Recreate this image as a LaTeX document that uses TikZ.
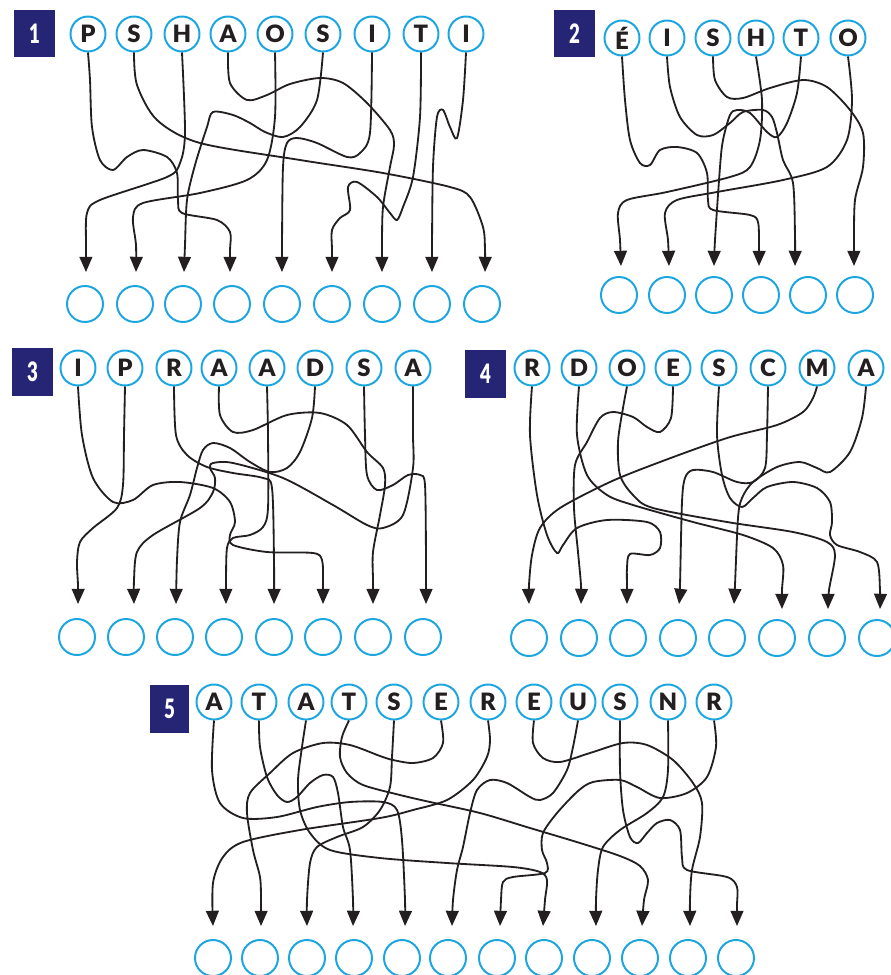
\documentclass[tikz,border=0pt]{standalone}
\usepackage{fontspec}
\usepackage{tikz}
\usetikzlibrary{calc,arrows.meta}
\newfontfamily\letterfont{Lato}[BoldFont={* Black}]
\definecolor{ringblue}{HTML}{1BA6E0}
\definecolor{boxnavy}{HTML}{262475}
\definecolor{wireink}{HTML}{231F20}

\begin{document}
\begin{tikzpicture}[x=0.025cm, y=-0.025cm,
	letter/.style={circle, draw=ringblue, line width=1.4pt, fill=white, inner sep=0pt, minimum size=0.875cm, text=wireink, font=\letterfont\bfseries\fontsize{17}{17}\selectfont},
	blank/.style={circle, draw=ringblue, line width=1.4pt, inner sep=0pt, minimum size=0.9cm},
	numbox/.style={fill=boxnavy, text=white, inner sep=0pt, font=\letterfont\bfseries\fontsize{19}{19}\selectfont},
	wire/.style={draw=wireink, line width=1.3pt, -{Triangle[length=0.38cm,width=0.32cm]}}]
			%%%%% START %%%%%
			\useasboundingbox (0, 0) rectangle (891, 975);
			
			%%%%% PUZZLE 1 %%%%%
			\node[numbox, minimum width=1.025cm, minimum height=1.175cm] (n1) at (34.5, 33.5) {\scalebox{0.7}[1]{1}};
			\node[letter] (p1t1) at (88, 34) {P};
			\node[letter] (p1t2) at (134, 34) {S};
			\node[letter] (p1t3) at (182, 34) {H};
			\node[letter] (p1t4) at (228, 34) {A};
			\node[letter] (p1t5) at (275, 34) {O};
			\node[letter] (p1t6) at (323, 34) {S};
			\node[letter] (p1t7) at (372, 34) {I};
			\node[letter] (p1t8) at (421, 34) {T};
			\node[letter] (p1t9) at (466, 34) {I};
			
			\node[blank] (p1b1) at (85, 304) {};
			\node[blank] (p1b2) at (135, 304) {};
			\node[blank] (p1b3) at (183, 304) {};
			\node[blank] (p1b4) at (232, 304) {};
			\node[blank] (p1b5) at (282, 304) {};
			\node[blank] (p1b6) at (332, 304) {};
			\node[blank] (p1b7) at (382, 304) {};
			\node[blank] (p1b8) at (432, 304) {};
			\node[blank] (p1b9) at (482, 304) {};
			
			\draw[wire] plot[smooth] coordinates {(p1t1.south) (90, 80) (92, 127) (100, 160) (113, 170) (127, 157) (143, 150) (167, 157) (177, 173) (178, 200) (182, 213) (217, 220) (230, 232) (230, 250) ($(p1b4.north)+(-2, -13)$)};
			\draw[wire] plot[smooth] coordinates {(p1t2.south) (137, 85) (157, 120) (200, 143) (300, 160) (383, 173) (450, 187) (470, 197) (483, 227) (485, 250) ($(p1b9.north)+(3, -13)$)};
			\draw[wire] plot[smooth] coordinates {(p1t3.south) (185, 133) (180, 163) (167, 177) (100, 200) (87, 213) (86, 245) ($(p1b1.north)+(1, -13)$)};
			\draw[wire] plot[smooth] coordinates {(p1t4.south) (230, 83) (247, 100) (267, 95) (290, 84) (320, 78) (343, 83) (367, 103) (390, 130) (394, 145) (390, 167) (383, 207) (382, 245) ($(p1b7.north)+(0, -13)$)};
			\draw[wire] plot[smooth] coordinates {(p1t5.south) (275, 117) (267, 160) (247, 180) (200, 193) (143, 203) (133, 217) (136, 245) ($(p1b2.north)+(1, -13)$)};
			\draw[wire] plot[smooth] coordinates {(p1t6.south) (317, 100) (300, 127) (283, 137) (265, 132) (250, 123) (233, 115) (213, 112) (207, 127) (195, 165) (187, 200) (185, 245) ($(p1b3.north)+(1, -13)$)};
			\draw[wire] plot[smooth] coordinates {(p1t7.south) (370, 133) (360, 153) (347, 157) (317, 143) (297, 138) (287, 143) (283, 167) (282, 245) ($(p1b5.north)+(0, -13)$)};
			\draw[wire] plot[smooth] coordinates {(p1t8.south) (420, 117) (413, 177) (403, 207) (397, 220) (390, 213) (377, 197) (357, 182) (348, 187) (350, 210) (340, 218) (332, 230) (332, 250) ($(p1b6.north)+(0, -13)$)};
			\draw[wire] plot[smooth] coordinates {(p1t9.south) (463, 100) (457, 138) (450, 127) (443, 110) (437, 117) (433, 167) (432, 245) ($(p1b8.north)+(0, -13)$)};
			
			%%%%% PUZZLE 2 %%%%%
			\node[numbox, minimum width=1.025cm, minimum height=1.175cm] (n2) at (574.5, 33.5) {\scalebox{0.7}[1]{2}};
			\node[letter] (p2t1) at (622, 38) {É};
			\node[letter] (p2t2) at (667, 38) {I};
			\node[letter] (p2t3) at (713, 38) {S};
			\node[letter] (p2t4) at (756, 38) {H};
			\node[letter] (p2t5) at (801, 38) {T};
			\node[letter] (p2t6) at (848, 38) {O};
			
			\node[blank] (p2b1) at (619, 295) {};
			\node[blank] (p2b2) at (667, 295) {};
			\node[blank] (p2b3) at (714, 295) {};
			\node[blank] (p2b4) at (761, 295) {};
			\node[blank] (p2b5) at (808, 295) {};
			\node[blank] (p2b6) at (855, 295) {};
			
			\draw[wire] plot[smooth] coordinates {(p2t1.south) (625, 100) (630, 140) (640, 163) (650, 165) (660, 150) (677, 147) (697, 153) (707, 173) (708, 200) (713, 210) (750, 215) (758, 222) (759, 245) ($(p2b4.north)+(-2, -10)$)};
			\draw[wire] plot[smooth] coordinates {(p2t2.south) (670, 87) (680, 117) (697, 135) (713, 135) (730, 123) (743, 112) (763, 110) (772, 117) (777, 133) (783, 160) (793, 183) (795, 235) ($(p2b5.north)+(-13, -10)$)};
			\draw[wire] plot[smooth] coordinates {(p2t3.south) (715, 80) (727, 97) (743, 98) (770, 88) (803, 80) (827, 87) (850, 110) (863, 133) (863, 167) (855, 200) (854, 240) ($(p2b6.north)+(-1, -10)$)};
			\draw[wire] plot[smooth] coordinates {(p2t4.south) (762, 100) (760, 140) (750, 167) (730, 177) (667, 192) (627, 200) (618, 213) (620, 240) ($(p2b1.north)+(2, -10)$)};
			\draw[wire] plot[smooth] coordinates {(p2t5.south) (797, 93) (787, 123) (777, 137) (767, 132) (750, 113) (737, 110) (730, 115) (723, 140) (720, 167) (715, 240) ($(p2b3.north)+(0, -10)$)};
			\draw[wire] plot[smooth] coordinates {(p2t6.south) (852, 100) (847, 140) (827, 167) (783, 180) (717, 192) (677, 200) (665, 213) (668, 240) ($(p2b2.north)+(2, -10)$)};
			
			%%%%% PUZZLE 3 %%%%%
			\node[numbox, minimum width=1.025cm, minimum height=1.2cm] (n3) at (32.5, 372) {\scalebox{0.7}[1]{3}};
			\node[letter] (p3t1) at (78, 368) {I};
			\node[letter] (p3t2) at (125, 368) {P};
			\node[letter] (p3t3) at (174, 368) {R};
			\node[letter] (p3t4) at (219, 368) {A};
			\node[letter] (p3t5) at (267, 368) {A};
			\node[letter] (p3t6) at (315, 368) {D};
			\node[letter] (p3t7) at (364, 368) {S};
			\node[letter] (p3t8) at (413, 368) {A};
			
			\node[blank] (p3b1) at (77, 637) {};
			\node[blank] (p3b2) at (126, 637) {};
			\node[blank] (p3b3) at (175, 637) {};
			\node[blank] (p3b4) at (224, 637) {};
			\node[blank] (p3b5) at (274, 637) {};
			\node[blank] (p3b6) at (323, 637) {};
			\node[blank] (p3b7) at (373, 637) {};
			\node[blank] (p3b8) at (423, 637) {};
			
			\draw[wire] plot[smooth] coordinates {(p3t1.south) (82, 435) (93, 478) (113, 502) (133, 500) (153, 485) (180, 482) (213, 488) (230, 502) (235, 522) (230, 535) (233, 545) (267, 552) (313, 553) (322, 560) (323, 580) ($(p3b6.north)+(0, -14)$)};
			\draw[wire] plot[smooth] coordinates {(p3t2.south) (124, 435) (123, 485) (117, 508) (93, 528) (80, 542) (77, 562) (78, 585) ($(p3b1.north)+(1, -14)$)};
			\draw[wire] plot[smooth] coordinates {(p3t3.south) (176, 435) (187, 455) (207, 467) (233, 473) (263, 478) (272, 488) (274, 560) ($(p3b5.north)+(0, -14)$)};
			\draw[wire] plot[smooth] coordinates {(p3t4.south) (220, 415) (233, 432) (253, 430) (287, 415) (320, 413) (347, 425) (367, 452) (383, 468) (385, 485) (380, 515) (373, 552) (373, 580) ($(p3b7.north)+(0, -14)$)};
			\draw[wire] plot[smooth] coordinates {(p3t5.south) (268, 435) (268, 508) (263, 527) (250, 535) (233, 538) (227, 548) (226, 580) ($(p3b4.north)+(2, -14)$)};
			\draw[wire] plot[smooth] coordinates {(p3t6.south) (312, 418) (300, 452) (287, 468) (270, 472) (250, 462) (230, 448) (213, 443) (203, 450) (197, 468) (190, 495) (180, 522) (177, 560) ($(p3b3.north)+(1, -14)$)};
			\draw[wire] plot[smooth] coordinates {(p3t7.south) (365, 435) (367, 475) (377, 490) (393, 485) (408, 475) (420, 475) (425, 485) (426, 560) ($(p3b8.north)+(3, -14)$)};
			\draw[wire] plot[smooth] coordinates {(p3t8.south) (413, 435) (413, 468) (403, 515) (383, 528) (367, 525) (333, 505) (283, 478) (233, 463) (213, 463) (210, 468) (215, 478) (213, 492) (200, 508) (153, 535) (137, 552) (134, 580) ($(p3b2.north)+(8, -14)$)};
			
			%%%%% PUZZLE 4 %%%%%
			\node[numbox, minimum width=1.025cm, minimum height=1.2cm] (n4) at (485.5, 374) {\scalebox{0.7}[1]{4}};
			\node[letter] (p4t1) at (532, 368) {R};
			\node[letter] (p4t2) at (579, 368) {D};
			\node[letter] (p4t3) at (627, 368) {O};
			\node[letter] (p4t4) at (673, 368) {E};
			\node[letter] (p4t5) at (719, 368) {S};
			\node[letter] (p4t6) at (768, 368) {C};
			\node[letter] (p4t7) at (817, 368) {M};
			\node[letter] (p4t8) at (866, 368) {A};
			
			\node[blank] (p4b1) at (529, 638) {};
			\node[blank] (p4b2) at (579, 638) {};
			\node[blank] (p4b3) at (628, 638) {};
			\node[blank] (p4b4) at (678, 638) {};
			\node[blank] (p4b5) at (727, 638) {};
			\node[blank] (p4b6) at (777, 638) {};
			\node[blank] (p4b7) at (827, 638) {};
			\node[blank] (p4b8) at (877, 638) {};
			
			\draw[wire] plot[smooth] coordinates {(p4t1.south) (530, 435) (537, 495) (547, 535) (557, 553) (563, 545) (577, 528) (607, 520) (647, 522) (660, 532) (660, 548) (650, 555) (630, 554) (627, 568) (627, 585) ($(p4b3.north)+(-1, -15)$)};
			\draw[wire] plot[smooth] coordinates {(p4t2.south) (577, 435) (587, 475) (607, 495) (633, 505) (693, 522) (743, 535) (773, 548) (783, 565) (782, 590) ($(p4b6.north)+(5, -10)$)};
			\draw[wire] plot[smooth] coordinates {(p4t3.south) (623, 408) (618, 442) (620, 475) (633, 495) (653, 508) (727, 522) (793, 532) (827, 542) (835, 555) (829, 590) ($(p4b7.north)+(1, -10)$)};
			\draw[wire] plot[smooth] coordinates {(p4t4.south) (671, 418) (660, 432) (647, 427) (633, 417) (613, 412) (600, 418) (587, 442) (575, 465) (574, 508) (578, 552) (581, 585) ($(p4b2.north)+(2, -15)$)};
			\draw[wire] plot[smooth] coordinates {(p4t5.south) (717, 435) (722, 475) (730, 498) (742, 507) (753, 498) (767, 487) (793, 482) (817, 488) (830, 502) (832, 522) (830, 535) (837, 545) (860, 552) (877, 562) (880, 590) ($(p4b8.north)+(3, -10)$)};
			\draw[wire] plot[smooth] coordinates {(p4t6.south) (767, 435) (765, 468) (753, 482) (737, 482) (713, 472) (693, 470) (685, 478) (682, 502) (680, 585) ($(p4b4.north)+(1, -15)$)};
			\draw[wire] plot[smooth] coordinates {(p4t7.south) (813, 398) (803, 412) (777, 425) (727, 438) (660, 462) (610, 482) (560, 508) (540, 528) (532, 555) (529, 585) ($(p4b1.north)+(0, -15)$)};
			\draw[wire] plot[smooth] coordinates {(p4t8.south) (862, 418) (850, 452) (830, 472) (817, 468) (800, 462) (777, 467) (753, 482) (742, 498) (738, 518) (735, 585) ($(p4b5.north)+(7, -15)$)};
			
			%%%%% PUZZLE 5 %%%%%
			\node[numbox, minimum width=0.975cm, minimum height=1.2cm] (n5) at (169.5, 709) {\scalebox{0.7}[1]{5}};
			\node[letter] (p5t1) at (214, 702) {A};
			\node[letter] (p5t2) at (259, 702) {T};
			\node[letter] (p5t3) at (306, 702) {A};
			\node[letter] (p5t4) at (349, 702) {T};
			\node[letter] (p5t5) at (394, 702) {S};
			\node[letter] (p5t6) at (441, 702) {E};
			\node[letter] (p5t7) at (488, 702) {R};
			\node[letter] (p5t8) at (534, 702) {E};
			\node[letter] (p5t9) at (578, 702) {U};
			\node[letter] (p5t10) at (620, 702) {S};
			\node[letter] (p5t11) at (668, 702) {N};
			\node[letter] (p5t12) at (714, 702) {R};
			
			\node[blank] (p5b1) at (213, 958) {};
			\node[blank] (p5b2) at (260, 958) {};
			\node[blank] (p5b3) at (307, 958) {};
			\node[blank] (p5b4) at (354, 958) {};
			\node[blank] (p5b5) at (402, 958) {};
			\node[blank] (p5b6) at (448, 958) {};
			\node[blank] (p5b7) at (497, 958) {};
			\node[blank] (p5b8) at (544, 958) {};
			\node[blank] (p5b9) at (592, 958) {};
			\node[blank] (p5b10) at (640, 958) {};
			\node[blank] (p5b11) at (688, 958) {};
			\node[blank] (p5b12) at (736, 958) {};
			
			\draw[wire] plot[smooth] coordinates {(p5t1.south) (212, 770) (220, 803) (243, 818) (277, 817) (317, 807) (350, 802) (383, 802) (397, 810) (402, 840) (405, 900) ($(p5b5.north)+(3, -13)$)};
			\draw[wire] plot[smooth] coordinates {(p5t2.south) (260, 747) (267, 777) (277, 795) (287, 802) (297, 797) (310, 783) (323, 775) (333, 777) (338, 793) (343, 827) (350, 850) (353, 900) ($(p5b4.north)+(-1, -13)$)};
			\draw[wire] plot[smooth] coordinates {(p5t3.south) (302, 747) (298, 780) (300, 810) (310, 833) (330, 850) (380, 858) (447, 863) (513, 867) (540, 872) (547, 880) (545, 900) ($(p5b8.north)+(-1, -13)$)};
			\draw[wire] plot[smooth] coordinates {(p5t4.south) (342, 737) (340, 757) (347, 773) (363, 785) (400, 795) (430, 802) (480, 813) (530, 828) (580, 843) (620, 856) (640, 866) (648, 880) (644, 900) ($(p5b10.north)+(2, -13)$)};
			\draw[wire] plot[smooth] coordinates {(p5t5.south) (392, 757) (390, 787) (380, 810) (363, 827) (337, 837) (317, 847) (310, 863) (307, 900) ($(p5b3.north)+(0, -13)$)};
			\draw[wire] plot[smooth] coordinates {(p5t6.south) (443, 743) (433, 758) (413, 763) (393, 760) (380, 756) (350, 745) (323, 743) (293, 753) (270, 773) (250, 793) (247, 813) (253, 850) (260, 877) (261, 900) ($(p5b2.north)+(1, -13)$)};
			\draw[wire] plot[smooth] coordinates {(p5t7.south) (490, 740) (487, 757) (473, 780) (447, 800) (413, 810) (380, 818) (300, 830) (243, 842) (223, 857) (213, 883) ($(p5b1.north)+(0, -13)$)};
			\draw[wire] plot[smooth] coordinates {(p5t8.south) (533, 743) (543, 758) (560, 762) (590, 753) (623, 743) (647, 745) (673, 760) (693, 783) (702, 803) (700, 837) (692, 870) (690, 900) ($(p5b11.north)+(2, -13)$)};
			\draw[wire] plot[smooth] coordinates {(p5t9.south) (573, 747) (567, 770) (553, 793) (540, 800) (530, 797) (507, 783) (490, 780) (477, 790) (470, 813) (463, 847) (457, 870) (453, 900) ($(p5b6.north)+(4, -13)$)};
			\draw[wire] plot[smooth] coordinates {(p5t10.south) (620, 770) (623, 810) (630, 837) (638, 843) (647, 833) (657, 823) (670, 820) (680, 830) (682, 857) (687, 870) (727, 877) (737, 887) (737, 905) ($(p5b12.north)+(1, -13)$)};
			\draw[wire] plot[smooth] coordinates {(p5t11.south) (668, 770) (663, 797) (647, 813) (620, 830) (603, 847) (598, 870) (596, 900) ($(p5b9.north)+(4, -13)$)};
			\draw[wire] plot[smooth] coordinates {(p5t12.south) (716, 747) (707, 777) (687, 793) (660, 798) (637, 787) (620, 780) (593, 782) (578, 791) (557, 813) (543, 833) (542, 850) (547, 863) (545, 873) (513, 877) (503, 882) (501, 900) ($(p5b7.north)+(3, -13)$)};
			
			%%%%% END %%%%%
\end{tikzpicture}
\end{document}
